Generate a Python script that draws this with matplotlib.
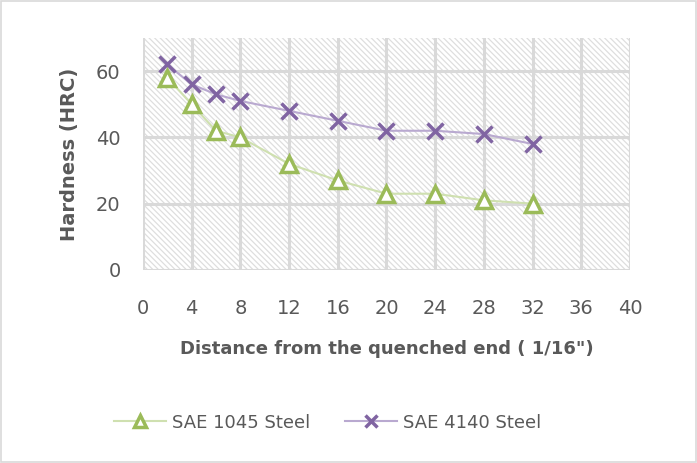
"""Jominy end-quench hardness profiles for SAE 1045 and SAE 4140 steel."""
import matplotlib
matplotlib.use("Agg")
import matplotlib.pyplot as plt
from matplotlib.lines import Line2D
from matplotlib.patches import Rectangle

plt.rcParams.update({"font.family": "DejaVu Sans", "hatch.linewidth": 0.9})

# distance from quenched end, in 1/16 inch
distance = [2, 4, 6, 8, 12, 16, 20, 24, 28, 32]
hrc_1045 = [58, 50, 42, 40, 32, 27, 23, 23, 21, 20]
hrc_4140 = [62, 56, 53, 51, 48, 45, 42, 42, 41, 38]
x_ticks = list(range(0, 41, 4))
y_ticks = [0, 20, 40, 60]

GRAY_TXT = "#595959"
GRID = "#d9d9d9"
GREEN, GREEN_LINE = "#9bbb59", "#cfe0b0"
PURPLE, PURPLE_LINE = "#8064a2", "#b9a9d0"

fig = plt.figure(figsize=(6.97, 4.63), dpi=100)
fig.patches.append(Rectangle((0.002, 0.003), 0.996, 0.994, transform=fig.transFigure,
                             fill=False, edgecolor=GRID, linewidth=1.2))
ax = fig.add_axes([0.205, 0.417, 0.699, 0.501])

# hatched plot-area fill
ax.add_patch(Rectangle((0, 0), 1, 1, transform=ax.transAxes, facecolor="white",
                       hatch="\\\\\\\\\\\\", edgecolor="#dedede", linewidth=0, zorder=0))

ax.plot(distance, hrc_1045, color=GREEN_LINE, lw=1.5, marker="^", ms=11, mfc="white",
        mec=GREEN, mew=2.5, zorder=3)
ax.plot(distance, hrc_4140, color=PURPLE_LINE, lw=1.5, marker="x", ms=11, mec=PURPLE,
        mew=2.5, zorder=4)

ax.set_xlim(0, 40); ax.set_ylim(0, 70)
ax.set_xticks(x_ticks); ax.set_yticks(y_ticks)
ax.grid(True, color=GRID, lw=2.2, zorder=1)
ax.set_axisbelow(True)
for s in ax.spines.values():
    s.set_visible(False)
ax.tick_params(length=0, labelsize=14, labelcolor=GRAY_TXT)
ax.tick_params(axis="x", pad=21)
ax.tick_params(axis="y", pad=16)
ax.set_xlabel('Distance from the quenched end ( 1/16")', fontsize=13, fontweight="bold",
              color=GRAY_TXT, labelpad=16)
ax.set_ylabel("Hardness (HRC)", fontsize=14, fontweight="bold", color=GRAY_TXT, labelpad=12)

handles = [Line2D([], [], color=GREEN_LINE, lw=1.5, marker="^", ms=9, mfc="white", mec=GREEN, mew=2.5),
           Line2D([], [], color=PURPLE_LINE, lw=1.5, marker="x", ms=9, mec=PURPLE, mew=2.5)]
fig.legend(handles, ["SAE 1045 Steel", "SAE 4140 Steel"], loc="center", bbox_to_anchor=(0.47, 0.087),
           ncol=2, frameon=False, fontsize=13, labelcolor=GRAY_TXT, handlelength=2.9,
           columnspacing=1.9, handletextpad=0.35)

fig.savefig("out.png", dpi=100)
